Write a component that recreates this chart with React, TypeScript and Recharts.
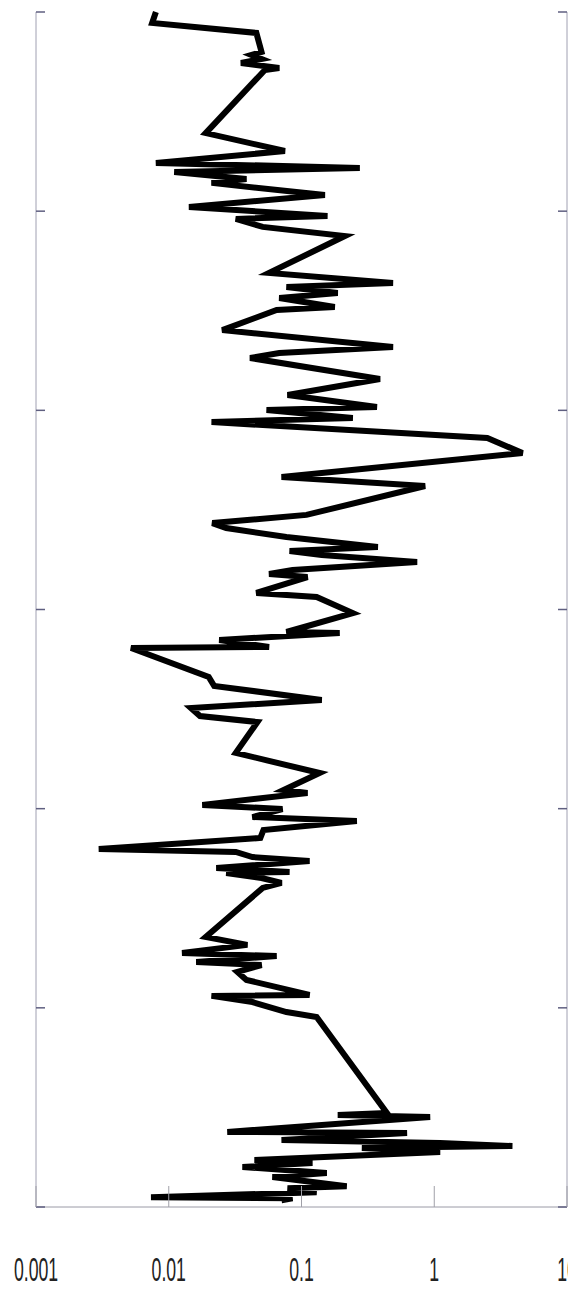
import React from 'react';
import { LineChart, Line, XAxis, YAxis } from 'recharts';

// depth of each reading (top = 0)
const depths = [
  0, 5.5, 10.5, 20.1, 21.6, 23.6, 25.6, 28.1, 29.1, 60.8,
  69.8, 75.8, 78.3, 80.3, 83.8, 85.8, 91.9, 97.9, 102.4, 103.9,
  107.9, 112.5, 131, 136.1, 138.1, 141.1, 143.6, 148.1, 149.6, 159.7,
  168.2, 171.2, 173.7, 184.3, 192.3, 198.3, 199.8, 203.8, 205.9, 213.9,
  221.4, 233.5, 238, 252.5, 256.6, 259.1, 263.6, 268.6, 270.6, 272.6,
  276.1, 280.2, 282.2, 283.7, 291.7, 293.7, 301.8, 311.3, 311.8, 315.3,
  318.8, 319.3, 333.9, 338.4, 345.4, 349.5, 353.5, 356.5, 372, 382.1,
  390.6, 392.1, 398.1, 400.2, 404.2, 406.2, 410.7, 414.7, 420.2, 421.7,
  424.3, 426.3, 429.8, 431.8, 432.3, 434.8, 437.3, 439.8, 464.4, 468.4,
  472.5, 474, 477, 478.5, 482, 486, 493.5, 494, 497.1, 502.1,
  504.6, 552.8, 553.8, 554.8, 562.3, 562.8, 566.3, 567.9, 569.4, 570.4,
  572.4, 576.4, 577.9, 579.9, 582.9, 584.9, 589.6, 590.6, 592.6, 595.1,
  595.6, 596.6,
];

// measured value at each depth (log scale)
const values = [
  0.008, 0.0075, 0.0457, 0.05, 0.042, 0.05, 0.035, 0.068, 0.053, 0.019,
  0.075, 0.008, 0.275, 0.011, 0.0385, 0.021, 0.15, 0.0142, 0.157, 0.032,
  0.051, 0.212, 0.057, 0.489, 0.077, 0.1875, 0.068, 0.178, 0.065, 0.0253,
  0.489, 0.068, 0.041, 0.39, 0.0785, 0.37, 0.0545, 0.2435, 0.021, 2.51,
  4.62, 0.0707, 0.853, 0.109, 0.0213, 0.0271, 0.077, 0.376, 0.0813, 0.142,
  0.743, 0.0856, 0.057, 0.111, 0.0457, 0.13, 0.2435, 0.077, 0.194, 0.024,
  0.057, 0.0052, 0.02, 0.022, 0.142, 0.0147, 0.0172, 0.0466, 0.032, 0.137,
  0.0732, 0.111, 0.0179, 0.0719, 0.0427, 0.261, 0.0517, 0.049, 0.00297, 0.032,
  0.0427, 0.115, 0.0228, 0.0813, 0.0271, 0.05, 0.0707, 0.051, 0.019, 0.0391,
  0.0126, 0.065, 0.0161, 0.05, 0.0329, 0.0385, 0.115, 0.021, 0.0427, 0.077,
  0.13, 0.44, 0.1875, 0.931, 0.0276, 0.624, 0.0707, 1.108, 3.88, 0.285,
  1.108, 0.0442, 0.121, 0.0359, 0.155, 0.0604, 0.219, 0.0785, 0.13, 0.00735,
  0.0856, 0.0707,
];

const xTicks = [0.001, 0.01, 0.1, 1, 10];
const xTickLabels = ['0.001', '0.01', '0.1', '1', '10'];
const depthTicks = [0, 100, 200, 300, 400, 500, 600];

const data = depths.map((depth, i) => ({ depth, value: values[i] }));

const AXIS = '#5f5f80';

// inward tick plus a tall narrow label under the axis
const LogTick = (props: any) => {
  const { x, y, payload } = props;
  const label = xTickLabels[xTicks.indexOf(payload.value)];
  return (
    <g>
      <line x1={x} y1={y} x2={x} y2={y - 21} stroke="#a0a0a8" strokeWidth={1} />
      <text
        x={0}
        y={0}
        transform={`translate(${x},${y + 74}) scale(0.52,1)`}
        textAnchor="middle"
        fontFamily="'Liberation Sans', Arial, sans-serif"
        fontSize={34}
        fill="#222"
      >
        {label}
      </text>
    </g>
  );
};

const NoLabel = () => <g />;

export default function App() {
  return (
    <div style={{ position: 'absolute', left: 0, top: 0, background: '#fff' }}>
      <LineChart
        width={568}
        height={1289}
        data={data}
        layout="vertical"
        margin={{ top: 12, right: 1, bottom: 0, left: 36 }}
      >
        <XAxis
          type="number"
          dataKey="value"
          scale="log"
          domain={[0.001, 10]}
          ticks={xTicks}
          interval={0}
          allowDataOverflow
          height={82}
          tickSize={0}
          tickMargin={0}
          tickLine={false}
          axisLine={{ stroke: '#9a9aa6' }}
          tick={<LogTick />}
        />
        <YAxis
          yAxisId="left"
          type="number"
          dataKey="depth"
          domain={[0, 600]}
          ticks={depthTicks}
          interval={0}
          width={1}
          mirror
          tickSize={9}
          tick={<NoLabel />}
          tickLine={{ stroke: AXIS, strokeWidth: 1.5 }}
          axisLine={{ stroke: '#a0a0b2' }}
        />
        <YAxis
          yAxisId="right"
          orientation="right"
          type="number"
          dataKey="depth"
          domain={[0, 600]}
          ticks={depthTicks}
          interval={0}
          width={1}
          mirror
          tickSize={9}
          tick={<NoLabel />}
          tickLine={{ stroke: AXIS, strokeWidth: 1.5 }}
          axisLine={{ stroke: '#a0a0b2' }}
        />
        <Line
          yAxisId="left"
          type="linear"
          dataKey="value"
          stroke="#000"
          strokeWidth={6}
          dot={false}
          isAnimationActive={false}
        />
      </LineChart>
    </div>
  );
}
